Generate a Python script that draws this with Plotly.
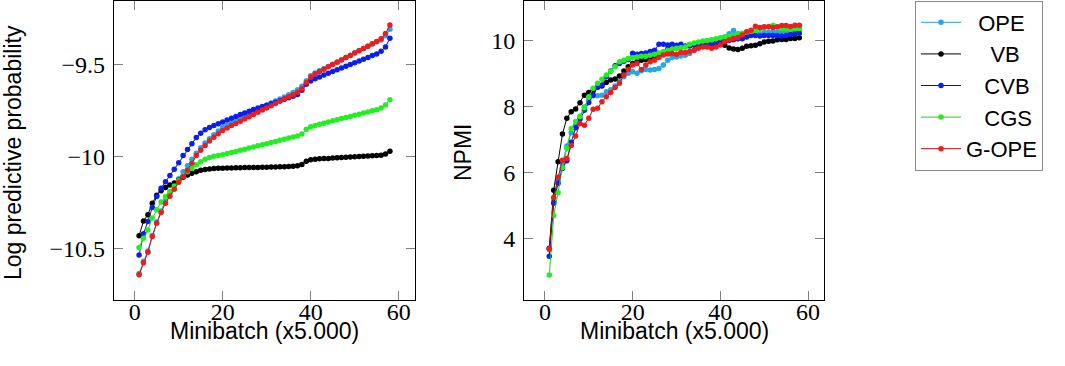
import plotly.graph_objects as go

minibatch = list(range(1, 59))
methods = ["OPE", "VB", "CVB", "CGS", "G-OPE"]

lpp_ope = [-10.635, -10.568, -10.512, -10.428, -10.355, -10.295, -10.243, -10.2, -10.16, -10.12,
           -10.083, -10.05, -10.015, -9.982, -9.952, -9.926, -9.903, -9.882, -9.862, -9.843,
           -9.83, -9.818, -9.806, -9.794, -9.782, -9.77, -9.758, -9.746, -9.734, -9.722,
           -9.71, -9.699, -9.688, -9.677, -9.665, -9.652, -9.638, -9.618, -9.588, -9.562,
           -9.546, -9.535, -9.523, -9.511, -9.499, -9.487, -9.474, -9.462, -9.45, -9.437,
           -9.425, -9.413, -9.401, -9.389, -9.377, -9.368, -9.345, -9.309]
lpp_vb = [-10.43, -10.35, -10.316, -10.253, -10.21, -10.185, -10.168, -10.154, -10.143, -10.128,
          -10.113, -10.1, -10.09, -10.082, -10.075, -10.07, -10.067, -10.065, -10.064, -10.063,
          -10.062, -10.062, -10.061, -10.061, -10.06, -10.06, -10.059, -10.059, -10.058, -10.058,
          -10.057, -10.057, -10.056, -10.055, -10.054, -10.052, -10.05, -10.043, -10.025, -10.018,
          -10.014, -10.012, -10.011, -10.01, -10.008, -10.007, -10.005, -10.004, -10.003, -10.001,
          -10.0, -9.999, -9.997, -9.996, -9.995, -9.993, -9.986, -9.971]
lpp_cvb = [-10.535, -10.419, -10.352, -10.277, -10.217, -10.172, -10.137, -10.103, -10.069, -10.033,
           -9.995, -9.962, -9.931, -9.897, -9.873, -9.855, -9.842, -9.832, -9.822, -9.812,
           -9.802, -9.792, -9.782, -9.772, -9.763, -9.754, -9.745, -9.737, -9.729, -9.721,
           -9.713, -9.705, -9.697, -9.689, -9.681, -9.673, -9.663, -9.64, -9.608, -9.59,
           -9.578, -9.568, -9.558, -9.548, -9.539, -9.529, -9.52, -9.51, -9.5, -9.491,
           -9.481, -9.472, -9.462, -9.452, -9.443, -9.428, -9.405, -9.358]
lpp_cgs = [-10.493, -10.443, -10.398, -10.334, -10.289, -10.247, -10.217, -10.19, -10.16, -10.132,
           -10.105, -10.082, -10.063, -10.045, -10.028, -10.014, -10.005, -9.999, -9.995, -9.99,
           -9.984, -9.978, -9.972, -9.966, -9.96, -9.954, -9.948, -9.942, -9.936, -9.93,
           -9.924, -9.918, -9.912, -9.906, -9.9, -9.894, -9.888, -9.878, -9.852, -9.838,
           -9.831, -9.825, -9.819, -9.813, -9.806, -9.8, -9.794, -9.788, -9.782, -9.776,
           -9.77, -9.764, -9.758, -9.752, -9.746, -9.737, -9.72, -9.692]
lpp_gope = [-10.642, -10.577, -10.52, -10.434, -10.362, -10.304, -10.253, -10.215, -10.177, -10.14,
            -10.11, -10.075, -10.036, -9.995, -9.966, -9.94, -9.916, -9.895, -9.876, -9.858,
            -9.845, -9.832, -9.82, -9.808, -9.796, -9.784, -9.772, -9.76, -9.748, -9.736,
            -9.724, -9.712, -9.7, -9.688, -9.676, -9.664, -9.651, -9.632, -9.598, -9.568,
            -9.55, -9.538, -9.526, -9.513, -9.501, -9.488, -9.476, -9.463, -9.451, -9.438,
            -9.426, -9.413, -9.401, -9.388, -9.376, -9.36, -9.332, -9.286]

npmi_ope = [3.65, 5.12, 5.75, 6.25, 6.8, 7.2, 7.42, 7.7, 7.98, 8.2,
            8.32, 8.32, 8.34, 8.44, 8.5, 8.62, 8.75, 8.9, 9.0, 9.05,
            9.0, 9.08, 9.12, 9.1, 9.12, 9.15, 9.25, 9.4, 9.48, 9.5,
            9.53, 9.55, 9.6, 9.7, 9.8, 9.88, 9.92, 9.95, 10.0, 10.05,
            10.1, 10.2, 10.3, 10.2, 10.18, 10.2, 10.22, 10.22, 10.2, 10.24,
            10.25, 10.25, 10.25, 10.27, 10.28, 10.28, 10.3, 10.32]
npmi_vb = [3.7, 5.46, 6.32, 7.16, 7.64, 7.84, 7.92, 8.11, 8.34, 8.42,
           8.47, 8.58, 8.62, 8.72, 8.8, 8.83, 8.92, 9.07, 9.2, 9.3,
           9.35, 9.4, 9.42, 9.45, 9.5, 9.55, 9.62, 9.73, 9.78, 9.77,
           9.8, 9.82, 9.84, 9.86, 9.85, 9.88, 9.87, 9.88, 9.86, 9.9,
           9.85, 9.77, 9.74, 9.72, 9.76, 9.82, 9.84, 9.85, 9.9, 9.95,
           9.97, 9.98, 10.02, 10.03, 10.03, 10.06, 10.06, 10.08]
npmi_cvb = [3.46, 5.06, 5.67, 6.12, 6.35, 6.91, 7.35, 7.62, 7.88, 8.12,
            8.34, 8.6, 8.65, 8.9, 9.07, 9.23, 9.3, 9.37, 9.42, 9.61,
            9.58, 9.6, 9.62, 9.66, 9.7, 9.88, 9.88, 9.86, 9.88, 9.85,
            9.88, 9.82, 9.84, 9.88, 9.9, 9.92, 9.9, 9.88, 9.95, 9.98,
            10.0, 10.0, 10.02, 10.05, 10.05, 10.1, 10.15, 10.15, 10.13, 10.15,
            10.15, 10.15, 10.14, 10.13, 10.15, 10.18, 10.2, 10.22]
npmi_cgs = [2.89, 4.69, 5.38, 6.15, 6.73, 7.33, 7.54, 7.69, 7.96, 8.29,
            8.55, 8.7, 8.82, 8.95, 9.07, 9.2, 9.35, 9.4, 9.45, 9.47,
            9.5, 9.52, 9.52, 9.55, 9.58, 9.62, 9.66, 9.7, 9.74, 9.76,
            9.78, 9.8, 9.88, 9.92, 9.95, 9.98, 10.0, 10.02, 10.05, 10.08,
            10.1, 10.12, 10.15, 10.18, 10.22, 10.25, 10.28, 10.3, 10.35, 10.38,
            10.42, 10.46, 10.4, 10.36, 10.35, 10.34, 10.35, 10.36]
npmi_gope = [3.68, 5.24, 5.85, 6.37, 6.42, 6.81, 7.1, 7.48, 7.43, 7.64,
             7.91, 7.94, 8.14, 8.29, 8.42, 8.57, 8.7, 8.95, 9.12, 9.25,
             9.3, 9.12, 9.25, 9.35, 9.4, 9.48, 9.56, 9.59, 9.6, 9.58,
             9.63, 9.63, 9.66, 9.7, 9.76, 9.8, 9.8, 9.76, 9.8, 9.86,
             9.96, 10.01, 10.06, 10.09, 10.16, 10.26, 10.31, 10.43, 10.39, 10.41,
             10.41, 10.39, 10.41, 10.45, 10.45, 10.42, 10.46, 10.46]

x_ticks = [0, 20, 40, 60]
lpp_ticks = [-10.5, -10, -9.5]
npmi_ticks = [4, 6, 8, 10]

lpp_series = [lpp_ope, lpp_vb, lpp_cvb, lpp_cgs, lpp_gope]
npmi_series = [npmi_ope, npmi_vb, npmi_cvb, npmi_cgs, npmi_gope]

line_colors = ["#2a9fd6", "#000000", "#10109a", "#22cc22", "#b01010"]
marker_colors = ["#22a8e6", "#000000", "#0a1ef0", "#22ee22", "#ee1c1c"]
pad = {"OPE": 2, "VB": 4, "CVB": 3, "CGS": 3, "G-OPE": 0}

W, H = 1065, 366
fig = go.Figure()

for i, m in enumerate(methods):
    name = "\u00a0" * pad[m] + m
    fig.add_trace(go.Scatter(
        x=minibatch, y=lpp_series[i], mode="lines+markers", name=name,
        line=dict(color=line_colors[i], width=1),
        marker=dict(color=marker_colors[i], size=5.5, line=dict(width=0)),
        xaxis="x", yaxis="y", legendgroup=m, showlegend=True))
for i, m in enumerate(methods):
    fig.add_trace(go.Scatter(
        x=minibatch, y=npmi_series[i], mode="lines+markers", name=m,
        line=dict(color=line_colors[i], width=1),
        marker=dict(color=marker_colors[i], size=5.5, line=dict(width=0)),
        xaxis="x2", yaxis="y2", legendgroup=m, showlegend=False))

tick_font = dict(family="Liberation Serif, serif", size=24, color="black")
common = dict(showline=True, linecolor="black", linewidth=1.3, mirror="ticks",
              ticks="inside", ticklen=9, tickwidth=1.2, tickcolor="#808080",
              showgrid=False, zeroline=False, tickfont=tick_font, automargin=False)

ydom = [1 - 300 / H, 1 - 0.6 / H]
fig.update_layout(
    width=W, height=H,
    margin=dict(l=0, r=0, t=0, b=0),
    paper_bgcolor="white", plot_bgcolor="white",
    xaxis=dict(domain=[114 / W, 415 / W], range=[-4.7, 63.7], tickvals=x_ticks,
               ticklabelstandoff=-10, anchor="y", **common),
    yaxis=dict(domain=ydom, range=[-10.7786, -9.1536], tickvals=lpp_ticks,
               ticklabelstandoff=3, anchor="x", **common),
    xaxis2=dict(domain=[524.3 / W, 824.3 / W], range=[-4.7, 63.7], tickvals=x_ticks,
                ticklabelstandoff=-10, anchor="y2", **common),
    yaxis2=dict(domain=ydom, range=[2.130, 11.206], tickvals=npmi_ticks,
                ticklabelstandoff=3, anchor="x2", **common),
    legend=dict(x=915 / W, y=1 - 0.5 / H, xanchor="left", yanchor="top",
                bordercolor="#8a8a8a", borderwidth=1, bgcolor="white",
                font=dict(family="Liberation Sans, Arial, sans-serif", size=22, color="black"),
                tracegroupgap=0, itemwidth=40, entrywidth=100, entrywidthmode="pixels"),
    showlegend=True,
)

title_font = dict(family="Liberation Sans, Arial, sans-serif", size=23, color="black")
annos = [
    dict(text="Minibatch (x5.000)", x=264.5 / W, y=1 - 331 / H),
    dict(text="Minibatch (x5.000)", x=674 / W, y=1 - 331 / H),
    dict(text="Log predictive probability", x=13 / W, y=1 - 153 / H, textangle=-90),
    dict(text="NPMI", x=463 / W, y=1 - 152 / H, textangle=-90),
]
for a in annos:
    fig.add_annotation(xref="paper", yref="paper", showarrow=False, font=title_font,
                       xanchor="center", yanchor="middle", **a)

fig.write_html("out.html", config={"displayModeBar": False},
               post_script="document.body.style.margin='0';document.body.style.overflow='hidden';")
